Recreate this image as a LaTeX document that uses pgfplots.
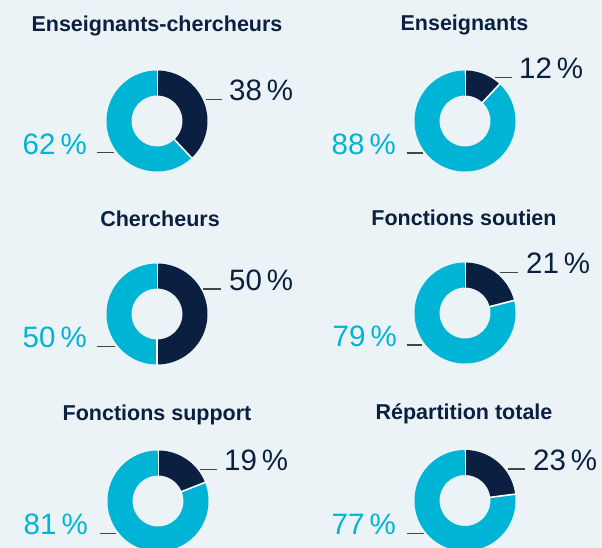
\documentclass[border=0pt]{standalone}
\usepackage{pgfplots}
\pgfplotsset{compat=1.18}
\usepackage{fontspec}
\setmainfont{Liberation Sans}
\definecolor{bgc}{HTML}{EBF3F6}
\definecolor{navyc}{HTML}{0B2040}
\definecolor{cyanc}{HTML}{00B4D6}
\definecolor{leadc}{HTML}{454545}
\newcommand{\donut}[3]{%
  \addplot[cyanc, line width=25bp, domain=3.6*#3:360, samples=100] ({#1+38*sin(x)},{#2-38*cos(x)});
  \addplot[navyc, line width=25bp, domain=0:3.6*#3, samples=70] ({#1+38*sin(x)},{#2-38*cos(x)});
  \addplot[white, line width=1.6bp, domain=24:52, samples=2] ({#1+x*sin(3.6*#3)},{#2-x*cos(3.6*#3)});
  \addplot[white, line width=0.8bp, domain=24:52, samples=2] ({#1},{#2-x});
}
\tikzset{
  ttl/.style={anchor=base, inner sep=0pt, text=navyc, font=\fontsize{21.5bp}{24bp}\selectfont\bfseries},
  dlab/.style={anchor=base west, inner sep=0pt, text=navyc, font=\fontsize{29.5bp}{31bp}\selectfont},
  clab/.style={anchor=base east, inner sep=0pt, text=cyanc, font=\fontsize{29.5bp}{31bp}\selectfont},
}
\newcommand{\pc}{\hspace{0.17em}\%}
\begin{document}
\begin{tikzpicture}
\fill[bgc] (0,0) rectangle (602bp,548bp);
\begin{axis}[
  at={(0,0)}, anchor=south west,
  scale only axis, width=602bp, height=548bp,
  xmin=0, xmax=602, ymin=0, ymax=548, y dir=reverse,
  hide axis, clip=true,
]
% donuts: centre x, centre y, dark share (%)
\donut{157}{121}{38}
\donut{465}{121}{12}
\donut{157}{314}{50}
\donut{465}{313}{21}
\donut{158}{501}{19}
\donut{465}{500.5}{23}
% leader lines
\addplot[leadc, line width=1.4bp] coordinates {(206,99.3) (222,99.3)};
\addplot[leadc, line width=1.4bp] coordinates {(97,152.7) (114,152.7)};
\addplot[leadc, line width=1.4bp] coordinates {(495,77.7) (512,77.7)};
\addplot[leadc, line width=1.4bp] coordinates {(407,153) (423,153)};
\addplot[leadc, line width=1.4bp] coordinates {(203,289) (221,289)};
\addplot[leadc, line width=1.4bp] coordinates {(97,346.7) (115,346.7)};
\addplot[leadc, line width=1.4bp] coordinates {(500,272.3) (518,272.3)};
\addplot[leadc, line width=1.4bp] coordinates {(407,345) (422,345)};
\addplot[leadc, line width=1.4bp] coordinates {(200,469.3) (217,469.3)};
\addplot[leadc, line width=1.4bp] coordinates {(100,533.3) (116,533.3)};
\addplot[leadc, line width=1.4bp] coordinates {(508,469) (525,469)};
\addplot[leadc, line width=1.4bp] coordinates {(407,533.3) (424,533.3)};
% titles
\node[ttl] at (axis cs:157,31.7) {Enseignants-chercheurs};
\node[ttl] at (axis cs:464.5,30.7) {Enseignants};
\node[ttl] at (axis cs:160,226.5) {Chercheurs};
\node[ttl] at (axis cs:464,225) {Fonctions soutien};
\node[ttl] at (axis cs:157,420) {Fonctions support};
\node[ttl] at (axis cs:464,419) {Répartition totale};
% labels
\node[dlab] at (axis cs:229,100) {38\pc};
\node[clab] at (axis cs:87,154) {62\pc};
\node[dlab] at (axis cs:519,78.5) {12\pc};
\node[clab] at (axis cs:396,154) {88\pc};
\node[dlab] at (axis cs:229,290) {50\pc};
\node[clab] at (axis cs:87,347) {50\pc};
\node[dlab] at (axis cs:526,273.3) {21\pc};
\node[clab] at (axis cs:397,346) {79\pc};
\node[dlab] at (axis cs:224,470) {19\pc};
\node[clab] at (axis cs:88,534) {81\pc};
\node[dlab] at (axis cs:533,470) {23\pc};
\node[clab] at (axis cs:396,534) {77\pc};
\end{axis}
\end{tikzpicture}
\end{document}
